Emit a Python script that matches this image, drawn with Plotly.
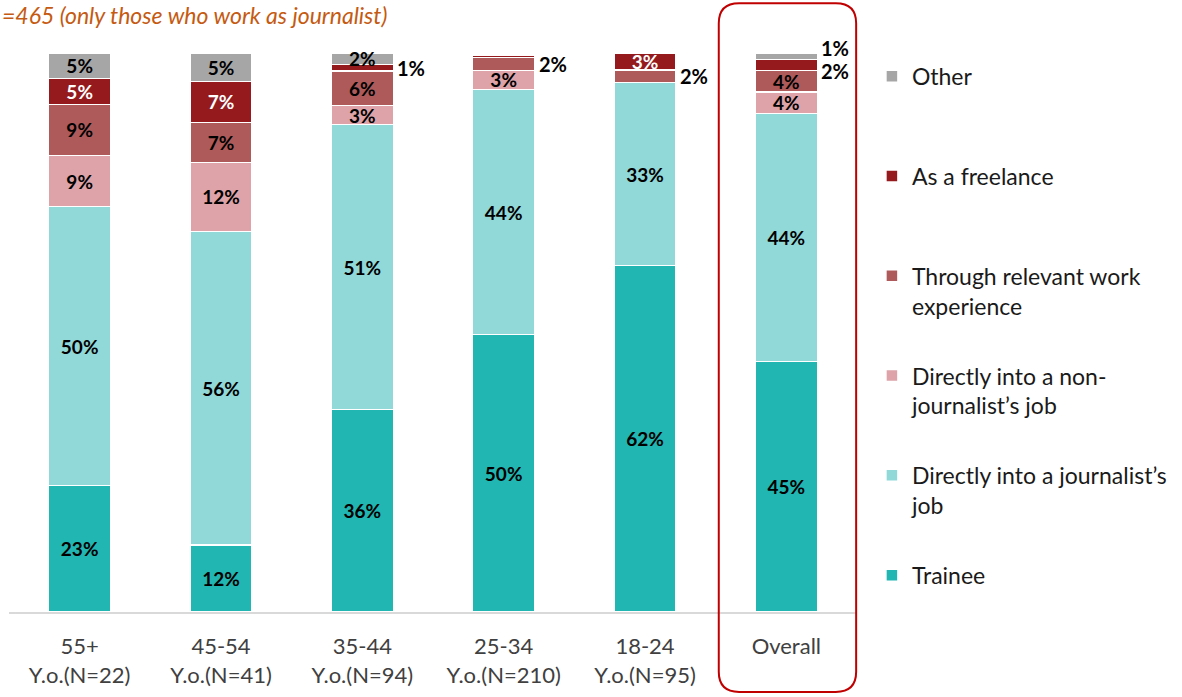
import plotly.graph_objects as go

# categories and shares (%)
categories = ["55+<br>Y.o.(N=22)", "45-54<br>Y.o.(N=41)", "35-44<br>Y.o.(N=94)",
              "25-34<br>Y.o.(N=210)", "18-24<br>Y.o.(N=95)", "Overall"]

trainee = [22.6, 12.0, 36.2, 49.6, 62.0, 44.8]
journalist_job = [49.9, 56.1, 51.0, 43.9, 32.7, 44.4]
non_journalist_job = [9.2, 12.3, 3.4, 3.4, 0.0, 3.8]
relevant_work = [9.1, 7.2, 6.2, 2.3, 2.3, 3.9]
freelance = [4.6, 7.3, 1.1, 0.4, 3.0, 1.9]
other = [4.6, 5.1, 2.1, 0.4, 0.0, 1.2]

series = [
    ("Trainee", trainee, "#21B6B2", "black"),
    ("Directly into a journalist\u2019s<br>job", journalist_job, "#90D9D8", "black"),
    ("Directly into a non-<br>journalist\u2019s job", non_journalist_job, "#DDA3A8", "black"),
    ("Through relevant work<br>experience", relevant_work, "#AE5A5A", "black"),
    ("As a freelance", freelance, "#941A1D", "white"),
    ("Other", other, "#A6A6A6", "black"),
]

# labels drawn beside the bar instead of inside it (series index -> category indexes)
outside_labels = {3: [3, 4], 4: [2, 5], 5: [5]}
label_shift = {(4, 5): -6, (5, 5): 8}

FONT = "Lato, Arial, sans-serif"

fig = go.Figure()
base = [0.0] * len(categories)
annotations = []
for i, (name, vals, color, txtcolor) in enumerate(series):
    texts = []
    for j, v in enumerate(vals):
        if v < 1 or j in outside_labels.get(i, []):
            texts.append("")
        else:
            texts.append(f"{v:.0f}%")
        if v >= 1 and j in outside_labels.get(i, []):
            annotations.append(dict(
                x=categories[j], y=base[j] + v / 2, xref="x", yref="y",
                text=f"<b>{v:.0f}%</b>", showarrow=False, xanchor="left",
                xshift=33, yshift=label_shift.get((i, j), 0),
                font=dict(family=FONT, size=20, color="black")))
        base[j] += v
    label = name if "<br>" in name else name + "<br>\u00a0"
    fig.add_trace(go.Bar(
        x=categories, y=vals, name=label, legendgroup=name,
        legendrank=1000 - i,
        marker=dict(color=color, line=dict(color="white", width=1.5)),
        width=0.44, text=texts, textposition="inside", textangle=0,
        insidetextanchor="middle", constraintext="none", cliponaxis=False,
        textfont=dict(family=FONT, size=19, color=txtcolor, weight="bold"),
        hoverinfo="x+y+name",
    ))

annotations.append(dict(
    x=-0.0105, y=1.068, xref="paper", yref="paper", xanchor="left", yanchor="middle",
    text="<i>=465 (only those who work as journalist)</i>", showarrow=False,
    font=dict(family=FONT, size=23, color="#C55A11")))

fig.update_layout(
    width=1182, height=697,
    barmode="stack",
    margin=dict(l=9, r=319, t=53, b=83),
    plot_bgcolor="white", paper_bgcolor="white",
    font=dict(family=FONT, size=20, color="#404040"),
    showlegend=True,
    legend=dict(x=1.0176, y=0.997, xanchor="left", yanchor="top",
                traceorder="grouped", tracegroupgap=37, valign="top",
                maxheight=690,
                font=dict(family=FONT, size=23, color="#1a1a1a"),
                bgcolor="rgba(0,0,0,0)"),
    xaxis=dict(showline=True, linecolor="#D9D9D9", linewidth=2, ticks="",
               tickfont=dict(family=FONT, size=22, color="#404040"),
               ticklabelstandoff=14,
               range=[-0.5, 5.5], fixedrange=True),
    yaxis=dict(visible=False, range=[0, 100], fixedrange=True),
    annotations=annotations,
    shapes=[dict(type="path", xref="paper", yref="paper",
                 path="M 0.837,1.053 Q 0.837,1.089 0.861,1.089 L 0.975,1.089 "
                      "Q 0.999,1.089 0.999,1.053 L 0.999,-0.107 Q 0.999,-0.143 0.975,-0.143 "
                      "L 0.861,-0.143 Q 0.837,-0.143 0.837,-0.107 Z",
                 line=dict(color="#C00000", width=2))],
)

fig.write_html("out.html", config={"displayModeBar": False},
               post_script="document.body.style.margin = '0'; "
                           "document.body.style.overflow = 'hidden';")
